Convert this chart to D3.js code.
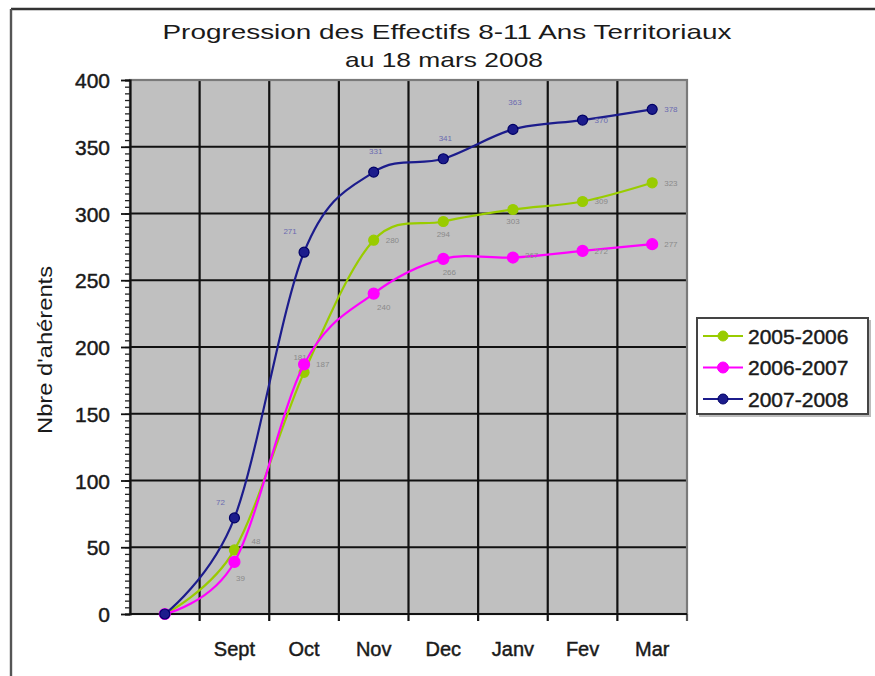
<!DOCTYPE html>
<meta charset="utf-8">
<style>
body { margin: 0; background: #fff; }
text { font-family: "Liberation Sans", Arial, sans-serif; fill: #1a1a1a; }
.bold { stroke: #1a1a1a; stroke-width: 0.45; }
.grid line { stroke: #111; stroke-width: 2.2; }
.serie path { fill: none; stroke-width: 2.2; }
.lbl { font-size: 8px; }
</style>
<svg width="875" height="676"></svg>
<script src="https://cdn.jsdelivr.net/npm/d3@7/dist/d3.min.js"></script>
<script>

var categories = ["", "Sept", "Oct", "Nov", "Dec", "Janv", "Fev", "Mar"];
var yTicks = [0, 50, 100, 150, 200, 250, 300, 350, 400];
var seriesNames = ["2005-2006", "2006-2007", "2007-2008"];
var values0506 = [0, 48, 181, 280, 294, 303, 309, 323];
var values0607 = [0, 39, 187, 240, 266, 267, 272, 277];
var values0708 = [0, 72, 271, 331, 341, 363, 370, 378];

// how each series looks, and where its little value labels sit
var colors = ["#99cc00", "#ff00ff", "#1c1c8c"];
var labelColors = ["#8a8a8a", "#8a8a8a", "#6a6ab0"];
var labelPos = [
  [null, [17, -6, "start"], [-4, -12, "middle"], [12, 3, "start"], [0, 15, "middle"], [0, 15, "middle"], [12, 3, "start"], [12, 3, "start"]],
  [null, [6, 19, "middle"], [12, 3, "start"], [10, 16, "middle"], [6, 16, "middle"], [12, 0, "start"], [12, 3, "start"], [12, 3, "start"]],
  [null, [-14, -13, "middle"], [-14, -18, "middle"], [2, -18, "middle"], [2, -18, "middle"], [2, -24, "middle"], [12, 3, "start"], [12, 3, "start"]]
];

var svg = d3.select("svg");

// outer frame (only top and left show)
svg.append("line").attr("x1", 11).attr("x2", 875).attr("y1", 9).attr("y2", 9)
    .attr("stroke", "#333").attr("stroke-width", 2.6);
svg.append("line").attr("x1", 11).attr("x2", 11).attr("y1", 9).attr("y2", 676)
    .attr("stroke", "#555").attr("stroke-width", 2.4);

var plotLeft = 130, plotRight = 687, plotTop = 80, plotBottom = 614;

var x = d3.scaleBand()
    .domain(d3.range(categories.length))
    .range([plotLeft, plotRight]);

var y = d3.scaleLinear()
    .domain([0, 400])
    .range([plotBottom, plotTop]);

function cx(i) { return x(i) + x.bandwidth() / 2; }

svg.append("rect")
    .attr("x", plotLeft).attr("y", plotTop)
    .attr("width", plotRight - plotLeft).attr("height", plotBottom - plotTop)
    .attr("fill", "#c0c0c0");

var grid = svg.append("g").attr("class", "grid");

grid.selectAll(".h")
  .data(yTicks.filter(function(d) { return d < 400; }))
  .enter().append("line")
    .attr("x1", plotLeft).attr("x2", plotRight)
    .attr("y1", function(d) { return y(d); })
    .attr("y2", function(d) { return y(d); });

grid.selectAll(".v")
  .data(d3.range(1, categories.length))
  .enter().append("line")
    .attr("x1", function(d) { return x(d); })
    .attr("x2", function(d) { return x(d); })
    .attr("y1", plotTop).attr("y2", plotBottom + 7);

// plot border
svg.append("rect")
    .attr("x", plotLeft).attr("y", plotTop)
    .attr("width", plotRight - plotLeft).attr("height", plotBottom - plotTop)
    .attr("fill", "none").attr("stroke", "#7a7a7a").attr("stroke-width", 2.2);
svg.append("line").attr("x1", plotRight).attr("x2", plotRight).attr("y1", plotBottom).attr("y2", plotBottom + 7)
    .attr("stroke", "#555").attr("stroke-width", 2.2);
svg.append("line").attr("x1", plotLeft).attr("x2", plotRight).attr("y1", plotBottom).attr("y2", plotBottom)
    .attr("stroke", "#111").attr("stroke-width", 2.2);

// y axis with minor ticks
var yAxis = svg.append("g")
    .attr("transform", "translate(" + plotLeft + ",0)")
    .call(d3.axisLeft(y).tickValues(d3.range(0, 401, 5)).tickSize(5).tickFormat(""));
yAxis.select(".domain").attr("stroke", "#111").attr("stroke-width", 2.2);
yAxis.selectAll(".tick line").attr("stroke", "#222").attr("stroke-width", 1.3);

svg.append("g")
    .attr("transform", "translate(" + plotLeft + ",0)")
    .call(d3.axisLeft(y).tickValues(yTicks).tickSize(9).tickPadding(11))
    .call(function(g) {
      g.select(".domain").remove();
      g.selectAll(".tick line").attr("stroke", "#111").attr("stroke-width", 1.8);
      g.selectAll(".tick text")
          .attr("class", "bold")
          .attr("font-size", 21)
          .attr("font-family", "Liberation Sans, Arial, sans-serif")
          .attr("fill", "#222")
          .attr("dy", "0.36em");
    });

// x labels
svg.append("g")
    .attr("transform", "translate(0," + plotBottom + ")")
    .call(d3.axisBottom(x).tickSize(0).tickPadding(28).tickFormat(function(i) { return categories[i]; }))
    .call(function(g) {
      g.select(".domain").remove();
      g.selectAll(".tick text")
          .attr("class", "bold")
          .attr("font-size", 20)
          .attr("font-family", "Liberation Sans, Arial, sans-serif")
          .attr("fill", "#222");
    });

// titles
svg.append("text")
    .attr("x", 447).attr("y", 39)
    .attr("text-anchor", "middle")
    .attr("font-size", 21)
    .attr("textLength", 569).attr("lengthAdjust", "spacingAndGlyphs")
    .text("Progression des Effectifs 8-11 Ans Territoriaux");
svg.append("text")
    .attr("x", 444).attr("y", 67)
    .attr("text-anchor", "middle")
    .attr("font-size", 21)
    .attr("textLength", 198).attr("lengthAdjust", "spacingAndGlyphs")
    .text("au 18 mars 2008");

svg.append("text")
    .attr("transform", "translate(52,350) rotate(-90)")
    .attr("text-anchor", "middle")
    .attr("font-size", 21)
    .attr("textLength", 168).attr("lengthAdjust", "spacingAndGlyphs")
    .text("Nbre d'ahérents");

// series
var allValues = [values0506, values0607, values0708];

var line = d3.line()
    .x(function(d, i) { return cx(i); })
    .y(function(d) { return y(d); })
    .curve(d3.curveCatmullRom.alpha(0));

allValues.forEach(function(vals, k) {
  var g = svg.append("g").attr("class", "serie");
  g.append("path")
      .attr("d", line(vals))
      .attr("stroke", colors[k]);
  g.selectAll("circle")
    .data(vals)
    .enter().append("circle")
      .attr("cx", function(d, i) { return cx(i); })
      .attr("cy", function(d) { return y(d); })
      .attr("r", k === 1 ? 5.5 : 5)
      .attr("fill", colors[k])
      .attr("stroke", k === 2 ? "#000066" : colors[k])
      .attr("stroke-width", 1.2);
  g.selectAll(".lbl")
    .data(vals.map(function(d, i) { return { v: d, i: i }; }).filter(function(d) { return d.i > 0; }))
    .enter().append("text")
      .attr("class", "lbl")
      .attr("x", function(d) { return cx(d.i) + labelPos[k][d.i][0]; })
      .attr("y", function(d) { return y(d.v) + labelPos[k][d.i][1]; })
      .attr("text-anchor", function(d) { return labelPos[k][d.i][2]; })
      .style("fill", labelColors[k])
      .text(function(d) { return d.v; });
});

// legend
var legend = svg.append("g").attr("transform", "translate(697,318)");
legend.append("rect")
    .attr("x", 2).attr("y", 2).attr("width", 172).attr("height", 97)
    .attr("fill", "#bbb");
legend.append("rect")
    .attr("width", 171).attr("height", 96)
    .attr("fill", "#fff").attr("stroke", "#444").attr("stroke-width", 2);

seriesNames.forEach(function(name, k) {
  var row = legend.append("g").attr("transform", "translate(0," + (18 + k * 31.5) + ")");
  row.append("line").attr("x1", 6).attr("x2", 46).attr("stroke", colors[k]).attr("stroke-width", 2.2);
  row.append("circle").attr("cx", 26).attr("r", k === 1 ? 5.5 : 5)
      .attr("fill", colors[k]).attr("stroke", k === 2 ? "#000066" : colors[k]);
  row.append("text").attr("x", 51).attr("dy", "0.36em")
      .attr("class", "bold")
      .attr("font-size", 21).attr("fill", "#1a1a1a")
      .text(name);
});

</script>
